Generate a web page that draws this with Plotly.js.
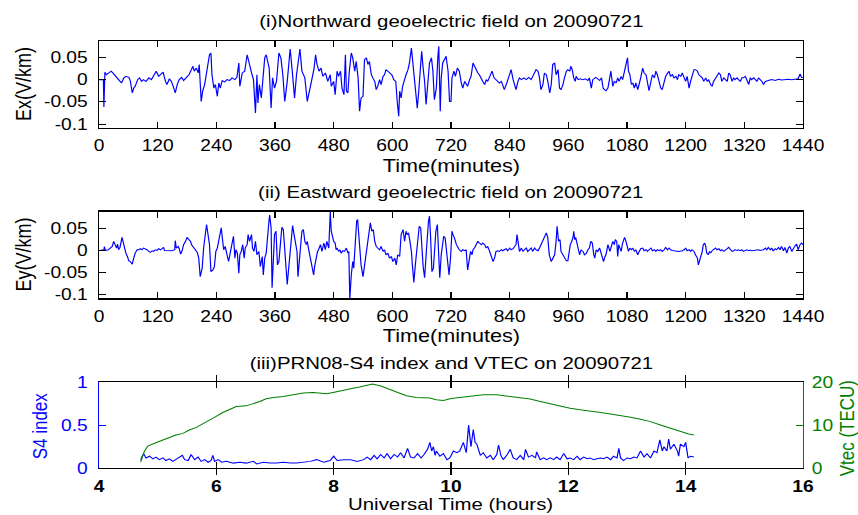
<!DOCTYPE html>
<html>
<head>
<meta charset="utf-8">
<script src="https://cdn.plot.ly/plotly-3.0.1.min.js"></script>
<style>
html,body{margin:0;padding:0;background:#fff;}
#wrap{width:858px;height:515px;overflow:hidden;}
#chart{width:715px;height:515px;transform:scaleX(1.2);transform-origin:0 0;}
</style>
</head>
<body>
<div id="wrap"><div id="chart"></div></div>
<script>
// Panel (i): Northward geoelectric field Ex (V/km) vs time (minutes)
const exTime = [0,2,9,10,12,15,20,25,30,35,40,46,51,55,61,64,68,71,74,79,83,87,91,96,102,107,112,117,122,127,131,136,139,144,148,153,156,160,164,169,173,178,184,189,192,195,199,203,205,209,212,216,221,226,229,231,235,238,242,245,248,252,257,262,267,272,278,282,286,288,293,298,303,308,312,316,320,323,325,328,332,336,339,342,346,348,352,355,359,363,368,372,376,380,385,388,391,395,400,404,409,411,415,421,426,431,436,440,443,446,450,454,458,463,468,473,
475,480,483,487,490,494,497,501,504,506,509,512,516,519,523,526,530,533,536,540,543,547,550,553,557,560,564,567,570,574,577,581,584,587,591,594,599,603,607,610,613,615,618,621,625,628,632,635,639,641,644,647,651,654,658,660,663,666,669,673,676,680,683,686,690,693,695,698,700,703,707,710,714,717,720,722,726,729,733,737,741,744,748,751,754,758,761,765,768,772,775,778,782,785,789,792,795,799,804,808,812,816,819,823,826,829,833,836,840,843,847,850,853,857,860,864,869,874,879,884,889,894,898,901,904,908,911,915,918,922,925,928,932,935,939,942,945,949,952,
956,959,963,965,968,971,974,976,980,984,990,995,1000,1003,1007,1010,1016,1020,1024,1028,1031,1034,1037,1041,1044,1047,1051,1054,1058,1061,1064,1068,1071,1075,1078,1081,1083,1086,1089,1092,1095,1098,1102,1105,1108,1112,1115,1119,1122,1125,1129,1132,1136,1139,1142,1146,1149,1152,1156,1159,1163,1166,1169,1173,1176,1180,1183,1186,1190,1193,1197,1200,1203,1207,1210,1213,1217,1220,1224,1227,1230,1234,1237,1241,1244,1247,1251,1254,1257,1261,1264,1268,1271,1274,1278,1281,1285,1288,1291,1295,1298,1301,1305,1308,1312,1315,1318,1322,1325,1329,1332,1335,1339,1342,1346,1349,1352,1356,1359,1363,1369,1376,1383,1390,1396,1403,1410,1417,1423,1430,1434,1437,1440];
const exValue = [0,0,0,-0.0615,0.0165,0.011,0.015,0.019,0.013,0.0075,0,-0.0075,0.004,0.0075,0.005,-0.002,-0.03,-0.019,-0.015,0,0.004,-0.004,0,-0.004,0.004,0,0.011,0.019,0.0075,0.013,0.017,-0.004,-0.011,0.002,-0.004,-0.019,-0.03,-0.011,0,0.005,-0.002,0.004,0.011,0.0225,0.03,0.019,0.026,0.015,0.034,-0.049,-0.026,-0.011,0.0225,0.056,0.06,0.011,-0.019,-0.011,-0.0375,-0.0075,-0.019,-0.002,-0.005,0,-0.002,0.004,0,0.005,0.0375,-0.015,0.015,0.019,0.056,0.03,0.015,0,-0.075,0.011,-0.0525,-0.011,-0.041,0.011,0.049,0.056,0.034,0.026,-0.064,0.004,-0.019,-0.004,0.06,0.049,0.011,-0.049,-0.004,0.041,0.069,0.0225,-0.041,0.011,0.06,0.069,0.019,0.004,-0.049,-0.026,0.004,0.026,0.056,0.034,0.019,0.026,0.0075,0.015,-0.004,0.011,
-0.015,-0.004,-0.034,0.019,0.0075,0.019,-0.019,-0.034,0.056,-0.026,-0.03,0.019,0.06,0.049,0.019,0.041,0.004,-0.071,-0.041,-0.0375,0.045,0.049,0.034,0.041,0.011,0.004,-0.004,-0.0225,-0.015,0,-0.011,0.0075,0.011,0.0225,0.019,0.015,0.011,0,-0.004,-0.049,-0.0825,-0.026,-0.041,-0.015,0.004,0.011,0.0225,0.0375,0.071,0.049,0.011,-0.034,-0.064,-0.026,0.034,0.064,0.026,-0.004,-0.056,-0.011,0.0375,0.049,0.019,-0.045,-0.019,0.049,0.075,-0.071,0.004,0.0375,0.049,0.0525,0.019,-0.049,-0.049,0.004,0.019,0.0075,0.026,0.019,-0.0075,-0.019,-0.004,-0.011,-0.015,0,0.0075,0.0375,0.03,0.019,0.015,0.011,0,-0.004,-0.011,0,-0.004,0.0075,0.019,0.004,0,-0.004,-0.0075,-0.004,-0.011,-0.0225,-0.011,0,0.011,0.0225,0,-0.011,-0.0225,-0.004,0.004,0,0.004,0,0.005,0,0.011,0.0225,0.019,0.004,-0.0225,-0.011,0.015,0.011,-0.004,-0.03,-0.011,0.034,0.0375,0.011,0.0225,-0.019,-0.0225,-0.011,0.004,
0.019,0.0225,0.019,0.03,0.0225,0.004,-0.004,0.0075,0,0.002,0,0.002,-0.002,0.004,-0.019,0,0.005,0.002,-0.002,0.004,-0.019,-0.0225,-0.025,-0.019,0.004,0.019,-0.015,-0.004,-0.0075,0.004,-0.004,0.0075,0,0.019,0.026,0.049,0.019,0.011,-0.011,-0.0075,-0.019,-0.0075,-0.0225,-0.011,0.004,0.026,0.015,0.011,-0.004,-0.025,-0.004,0.011,0.004,0.019,0.011,-0.0075,-0.019,-0.0225,-0.0075,0.0075,0.015,0.019,0.0075,0.011,0.004,0.0075,0,0.011,0.0075,0.015,0.004,-0.004,0.0075,-0.019,-0.004,0.011,0.0225,0.0225,0.019,0.011,0.0075,0.004,-0.004,0.004,-0.004,0,-0.011,-0.015,-0.004,0.004,0.0075,0.015,0.011,-0.004,0.004,0,-0.004,0.015,0.011,-0.004,0.004,0,0.004,0,-0.004,0.004,0.004,0.0075,0,-0.011,0.004,0,0.004,0,-0.004,0.004,0,-0.004,-0.011,-0.004,-0.002,0,-0.002,0.001,-0.001,0,0.001,0,0.001,0.002,0.013,0.005,0.004];

// Panel (ii): Eastward geoelectric field Ey (V/km) vs time (minutes)
const eyTime = [0,6,10,11,13,19,23,27,30,34,36,38,40,43,46,47,50,53,55,58,61,64,68,71,74,78,81,85,88,91,95,98,102,105,109,112,115,119,122,126,129,132,134,139,144,149,155,156,158,162,164,167,170,173,177,180,184,187,190,194,197,201,204,207,211,214,218,220,222,226,229,233,236,239,242,245,248,250,253,255,258,262,265,269,272,275,278,280,283,286,288,291,294,297,299,303,305,308,312,314,317,320,323,327,330,334,336,339,342,344,347,349,352,354,357,359,362,365,368,371,374,377,380,383,385,388,391,394,396,399,402,405,407,410,413,415,418,421,424,426,429,432,436,439,441,444,447,449,453,456,460,463,466,470,473,475,
480,483,485,487,490,493,495,499,502,506,509,511,513,516,519,521,524,527,529,531,534,536,540,543,547,550,553,555,558,561,564,567,570,574,577,581,584,587,591,594,598,601,605,608,611,615,618,622,625,628,630,633,636,639,641,644,647,650,652,655,658,660,663,666,669,671,674,676,678,681,684,686,689,692,694,697,700,703,705,708,711,714,716,719,722,724,727,731,734,737,741,744,748,751,754,757,760,763,765,768,772,775,778,782,785,789,792,795,799,802,806,809,812,816,819,823,826,829,833,836,840,843,847,850,853,855,858,860,864,867,870,874,877,881,884,887,891,894,898,901,904,908,911,915,918,921,925,928,932,935,937,940,943,945,949,952,
956,959,961,964,967,970,971,973,975,978,980,983,986,990,993,997,1000,1003,1006,1009,1012,1014,1017,1020,1024,1026,1029,1032,1035,1037,1041,1043,1045,1048,1051,1054,1056,1059,1061,1063,1066,1068,1071,1074,1075,1078,1081,1083,1086,1089,1092,1095,1098,1102,1105,1108,1112,1115,1119,1122,1125,1129,1132,1136,1139,1142,1146,1149,1152,1156,1159,1163,1166,1169,1173,1180,1186,1193,1197,1200,1203,1207,1210,1213,1217,1220,1224,1226,1228,1231,1234,1236,1239,1241,1243,1246,1249,1251,1254,1257,1261,1264,1268,1271,1274,1278,1281,1285,1288,1291,1295,1298,1301,1305,1308,1312,1315,1318,1322,1325,1329,1332,1335,1339,1342,1346,1349,1352,1356,1359,1363,1366,1369,1373,1376,1379,1383,1386,1390,1393,1396,1400,1403,1407,1410,1413,1417,1420,1423,1427,1430,1434,1437,1440];
const eyValue = [0,0,0.0015,0.009,0,0.0015,0.0054,0.0092,0.0208,0.013,0.0054,0.0146,0.0015,0.007,0.0208,0.03,0.0169,0.0015,-0.0062,-0.0139,-0.0239,-0.0254,-0.0316,-0.0177,-0.0062,0.0015,0.0015,0.0039,0.0015,0.0054,0.0039,0.0015,-0.0023,-0.0046,-0.0008,-0.0023,0.0015,0,0.0039,0.0015,0.0039,0.0069,0,-0.0008,0,-0.0008,0.0015,0.0223,0.0054,0.0092,0.0039,-0.0085,-0.0008,0.0131,0.0208,0.03,0.0246,0.0208,0.0116,0.0069,0.0015,-0.0046,-0.0177,-0.06,-0.0408,0.0054,0.0477,0.0593,0.0439,0.0131,-0.0485,-0.0446,-0.037,-0.0023,0.0054,0.0246,0.0439,0.0516,0.0208,0.0015,0.0092,-0.0139,-0.0254,-0.0023,0.0208,0.0323,-0.0177,0.0015,-0.0062,-0.0524,-0.01,-0.0023,0.0131,-0.0177,0.0054,0.0131,0.0362,0.0208,0.0362,0.0054,-0.0023,0.0208,-0.01,-0.0023,-0.037,-0.0139,-0.0562,-0.0177,-0.0062,0.0131,0.0593,0.0809,0.0516,-0.0855,-0.0177,0.0362,0.0439,-0.0331,-0.0254,0.0208,0.0531,0.0477,0.0054,-0.0408,-0.0778,-0.0408,0.0054,0.0362,0.057,0.0362,0.0208,-0.0023,-0.06,-0.0177,0.0169,0.0439,0.0477,0.0208,0.0131,0.0208,0.0015,-0.0177,-0.0408,-0.0562,-0.037,-0.0177,-0.0023,0.0015,0.0131,-0.0023,0.0169,0.0015,0.0208,0.0054,0.088,0.0439,
0.0208,0.0169,0.0015,0.0054,-0.0023,0.0015,-0.0062,-0.0008,-0.0023,0.0054,-0.0062,-0.0023,-0.1117,-0.0562,-0.0254,-0.0408,0.0208,0.067,0.0708,0.0362,-0.01,-0.0331,-0.06,-0.0331,-0.0023,0.0208,0.0516,0.0631,0.0439,0.0477,0.0208,0.0092,0.0054,0.0015,0.0092,-0.0023,0.0015,-0.01,-0.0062,-0.0177,-0.0139,-0.0254,-0.0177,-0.0331,-0.01,-0.0139,0.0362,0.0477,0.0208,0.0439,0.0362,0.04,0.0208,-0.0023,-0.0331,-0.0731,-0.0331,0.0054,0.0362,0.0554,0.0516,0.0131,-0.037,-0.0624,-0.0254,0.0208,0.067,0.0786,0.0362,-0.0485,-0.0408,0.0054,0.0439,0.0593,0.0208,-0.0624,-0.01,0.0285,0.0323,0.0285,-0.01,-0.0485,-0.0562,-0.0177,0.0439,0.0362,0.0285,0.0131,0.0054,0.0015,-0.0023,0.0015,-0.0008,0.0015,-0.0447,-0.0177,-0.0023,-0.01,0.0015,0.0054,0.0169,0.0208,0.0169,0.0131,0.0169,0.0131,0.0054,0.0092,-0.0023,-0.0139,-0.0254,-0.0177,-0.0023,-0.0008,-0.0023,0.0015,-0.0008,0.0015,0.0039,-0.0008,0.0054,0.0015,0.0039,0.0092,0.0131,0.0362,0.0015,-0.0023,0.0054,-0.0023,0.0015,0.0054,-0.0023,0.0015,0.0054,-0.0023,0.0054,0.0015,-0.0008,0.0054,0.0131,0.0208,0.0285,0.04,0.0285,-0.01,-0.0254,-0.0177,-0.01,0.0208,0.0554,0.0208,0.0246,-0.0023,-0.01,-0.0177,
-0.0239,-0.0239,-0.0023,0.0131,0.0208,0.0323,0.0439,0.0246,0.03,0.0131,-0.0023,-0.01,0.0015,-0.0023,-0.01,-0.0062,0.0015,0.0054,0.0208,0.0169,-0.01,-0.0177,0.0015,-0.0023,0.0054,-0.0023,-0.0139,-0.0254,-0.0139,-0.01,0.0131,0.0054,-0.0023,0.0092,0.0208,0.0131,0.0246,0.0208,-0.0139,0.0131,0.0054,-0.0023,0.0169,0.0285,0.03,0.0208,0.0092,-0.0023,0.0054,0.0015,0.0054,-0.0023,0.0015,-0.01,-0.0023,0.0039,0.0054,-0.0008,0.0015,-0.0023,0.0015,0.0054,-0.0008,0.0015,-0.0023,0.0015,-0.0008,0.0015,-0.0023,0.0015,0.0069,0.0015,0.0054,0.0015,0,-0.0008,-0.0023,-0.0008,0.0015,0.0054,-0.0008,0.0015,-0.0023,0.0015,-0.0023,-0.01,-0.0177,-0.0331,-0.0216,-0.0139,-0.0023,0.0131,0.0169,0.0092,-0.0062,-0.01,-0.0023,-0.0062,-0.0008,0.0015,0.0054,0.0015,0.0039,-0.0008,0.0015,-0.0023,0.0015,0.0039,0.0069,0.0015,-0.0023,-0.0008,0.0015,0,0.0015,-0.0008,0.0015,-0.0023,0,0.0015,-0.0008,0.0008,-0.0008,0,-0.0008,0.0008,0.0015,0,0.0008,0.0015,0.0054,0.0015,0.0069,0.0015,0.0054,-0.0008,0.0039,0.0015,0.0069,0.0015,0.0092,-0.0008,0.0069,-0.0062,0.0054,0.0092,-0.0023,0.0054,0.0092,0.0146,0.0015,0.0131,0.0169,0.0131];

// Panel (iii): PRN08 S4 index and VTEC vs universal time (hours)
const s4Hour = [4.71,4.76,4.8,4.86,4.92,4.97,5.03,5.09,5.14,5.2,5.26,5.31,5.37,5.42,5.46,5.52,5.57,5.63,5.69,5.74,5.8,5.86,5.91,5.94,5.97,6.03,6.09,6.17,6.29,6.4,6.51,6.63,6.69,6.8,6.91,7.03,7.14,7.26,7.37,7.49,7.6,7.71,7.83,7.94,8.0,8.06,8.17,8.29,8.4,8.51,8.57,8.63,8.69,8.74,8.8,8.86,8.91,8.97,9.03,9.09,9.14,9.2,9.26,9.31,9.37,9.43,9.49,9.54,9.6,
9.64,9.67,9.7,9.73,9.75,9.81,9.87,9.93,9.98,10.04,10.1,10.15,10.21,10.26,10.3,10.34,10.38,10.41,10.44,10.47,10.5,10.55,10.61,10.67,10.72,10.78,10.81,10.85,10.89,10.95,11.01,11.06,11.12,11.18,11.24,11.27,11.32,11.38,11.44,11.46,11.52,11.58,11.63,11.69,11.75,11.8,11.86,11.92,11.98,12.03,12.09,12.15,12.2,12.26,12.32,12.37,12.43,12.49,12.55,12.6,12.66,12.72,12.77,12.83,12.86,12.89,12.94,13.0,13.06,13.12,13.17,13.23,13.29,13.34,13.4,13.46,13.51,13.56,13.6,13.63,13.68,13.71,13.74,13.8,13.86,13.88,13.91,13.97,14.0,14.04,14.08,14.14];
const s4Value = [0.1,0.17,0.12,0.14,0.11,0.13,0.1,0.12,0.09,0.11,0.08,0.1,0.12,0.15,0.1,0.09,0.16,0.1,0.13,0.08,0.1,0.07,0.09,0.15,0.08,0.1,0.07,0.08,0.06,0.07,0.06,0.08,0.05,0.07,0.06,0.06,0.07,0.06,0.06,0.07,0.08,0.1,0.07,0.09,0.14,0.09,0.1,0.1,0.08,0.1,0.13,0.1,0.15,0.11,0.16,0.12,0.17,0.11,0.16,0.13,0.18,0.12,0.23,0.13,0.12,0.17,0.12,0.16,0.22,
0.3,0.2,0.25,0.15,0.2,0.14,0.17,0.1,0.12,0.2,0.18,0.2,0.3,0.18,0.5,0.25,0.45,0.3,0.28,0.2,0.15,0.18,0.12,0.15,0.1,0.16,0.27,0.15,0.1,0.15,0.22,0.12,0.1,0.15,0.1,0.22,0.13,0.15,0.12,0.19,0.1,0.12,0.1,0.12,0.1,0.13,0.1,0.17,0.11,0.12,0.1,0.14,0.1,0.13,0.11,0.12,0.1,0.11,0.12,0.11,0.13,0.1,0.14,0.12,0.23,0.12,0.09,0.12,0.11,0.13,0.12,0.2,0.13,0.17,0.12,0.2,0.18,0.33,0.2,0.25,0.2,0.34,0.22,0.28,0.2,0.14,0.28,0.25,0.3,0.12,0.14,0.13];
const vtecHour = [4.71,4.77,4.83,4.89,4.97,5.09,5.2,5.31,5.43,5.54,5.66,5.77,5.88,5.99,6.11,6.23,6.34,6.51,6.63,6.74,6.85,6.97,7.14,7.31,7.48,7.65,7.76,7.88,7.99,8.1,8.27,8.44,8.56,8.66,8.79,8.9,9.07,9.24,9.41,9.64,9.75,9.87,10.0,10.21,10.38,10.55,10.78,11.01,11.18,11.35,11.52,11.69,11.86,12.03,12.2,12.37,12.55,12.72,12.89,13.06,13.23,13.4,13.57,13.74,13.91,14.05,14.14];
const vtecValue = [1.48,3.81,5.14,5.52,5.91,6.54,7.16,7.7,8.09,8.87,9.49,10.27,11.2,11.98,12.92,13.69,14.32,14.47,14.94,15.48,16.1,16.42,16.65,17.04,17.43,17.58,17.43,17.27,17.58,17.82,18.36,18.83,19.14,19.53,19.14,18.59,17.58,16.8,16.42,16.26,15.87,15.72,16.18,16.49,16.8,17.04,17.04,16.65,16.49,16.03,15.48,14.94,14.47,13.93,13.54,13.3,12.92,12.6,12.29,11.83,11.36,10.81,10.04,9.26,8.48,7.94,7.7];

const minuteTicks = [0,120,240,360,480,600,720,840,960,1080,1200,1320,1440];
const fieldTicks = [-0.1,-0.05,0,0.05];
const fieldTickText = ['-0.1','-0.05','0','0.05'];
const hourTicks = [4,6,8,10,12,14,16];
const s4Ticks = [0,0.5,1];
const s4TickText = ['0','0.5','1'];
const vtecTicks = [0,10,20];

const FONT = 'Liberation Sans, Arial, Helvetica, sans-serif';
const BLUE = '#0000ff', GREEN = '#008000';
const xDom = [0.1154, 0.9359];

function xAx(range, tv, anchor, extra){
  return Object.assign({domain:xDom, anchor:anchor, range:range, tickvals:tv, ticktext:tv.map(String),
    ticks:'inside', ticklen:6, tickwidth:1, tickcolor:'#000', showline:true, linecolor:'#000', linewidth:1.2,
    mirror:'allticks', showgrid:false, zeroline:false, ticklabelstandoff:3,
    tickfont:{family:FONT, size:16, color:'#000'}}, extra||{});
}
function yAx(dom, range, tv, tt, anchor, extra){
  return Object.assign({domain:dom, anchor:anchor, range:range, tickvals:tv, ticktext:tt,
    ticks:'inside', ticklen:6, tickwidth:1, tickcolor:'#000', showline:true, linecolor:'#000', linewidth:1.2,
    mirror:'allticks', showgrid:false, zeroline:false, ticklabelstandoff:5,
    tickfont:{family:FONT, size:16, color:'#000'}}, extra||{});
}

const data = [
  {x:exTime, y:exValue, xaxis:'x', yaxis:'y', mode:'lines', line:{color:BLUE, width:1}, hoverinfo:'skip'},
  {x:eyTime, y:eyValue, xaxis:'x2', yaxis:'y2', mode:'lines', line:{color:BLUE, width:1}, hoverinfo:'skip'},
  {x:vtecHour, y:vtecValue, xaxis:'x3', yaxis:'y4', mode:'lines', line:{color:GREEN, width:1}, hoverinfo:'skip'},
  {x:s4Hour, y:s4Value, xaxis:'x3', yaxis:'y3', mode:'lines', line:{color:BLUE, width:1}, hoverinfo:'skip'}
];

const ann = (text, x, y, size, extra) => Object.assign({text:text, xref:'paper', yref:'paper', x:x, y:y,
  xanchor:'center', yanchor:'middle', showarrow:false, borderpad:0, font:{family:FONT, size:size, color:'#000'}}, extra||{});

const layout = {
  width:715, height:515, autosize:false,
  margin:{l:0, r:0, t:0, b:0},
  paper_bgcolor:'#fff', plot_bgcolor:'#fff', showlegend:false,
  xaxis: xAx([0,1440], minuteTicks, 'y'),
  yaxis: yAx([0.7515,0.9204], [-0.1087,0.0869], fieldTicks, fieldTickText, 'x'),
  xaxis2: xAx([0,1440], minuteTicks, 'y2'),
  yaxis2: yAx([0.4204,0.5893], [-0.110,0.089], fieldTicks, fieldTickText, 'x2'),
  xaxis3: xAx([4,16], hourTicks, 'y3', {tickfont:{family:FONT, size:16, color:'#000', weight:'bold'}}),
  yaxis3: yAx([0.0907,0.2583], [0,1], s4Ticks, s4TickText, 'x3',
    {mirror:false, linecolor:BLUE, tickcolor:BLUE, tickfont:{family:FONT, size:16, color:BLUE}}),
  yaxis4: {overlaying:'y3', anchor:'x3', side:'right', range:[0,20], tickvals:vtecTicks, ticktext:vtecTicks.map(String),
    ticks:'inside', ticklen:6, tickwidth:1, tickcolor:GREEN, showline:true, linecolor:GREEN, linewidth:1.2,
    showgrid:false, zeroline:false, ticklabelstandoff:3, tickfont:{family:FONT, size:16, color:GREEN}},
  annotations: [
    ann('(i)Northward geoelectric field on 20090721', 0.5256, 0.9592, 17),
    ann('(ii) Eastward geoelectric field on 20090721', 0.5256, 0.6262, 17),
    ann('(iii)PRN08-S4 index and VTEC on 20090721', 0.5256, 0.2942, 17),
    ann('Time(minutes)', 0.5256, 1-166/515, 18),
    ann('Time(minutes)', 0.5256, 1-336/515, 18),
    ann('Universal Time (hours)', 0.5256, 1-504/515, 17),
    ann('Ex(V/km)', 0.0274, 1-84.5/515, 18, {textangle:-90}),
    ann('Ey(V/km)', 0.0274, 1-255/515, 18, {textangle:-90}),
    ann('S4 index', 0.0466, 1-426/515, 17, {textangle:-90, font:{family:FONT, size:17, color:BLUE}}),
    ann('Vtec (TECU)', 0.9865, 1-428/515, 17, {textangle:-90, font:{family:FONT, size:17, color:GREEN}})
  ]
};

Plotly.newPlot('chart', data, layout, {staticPlot:true, displayModeBar:false});
</script>
</body>
</html>
